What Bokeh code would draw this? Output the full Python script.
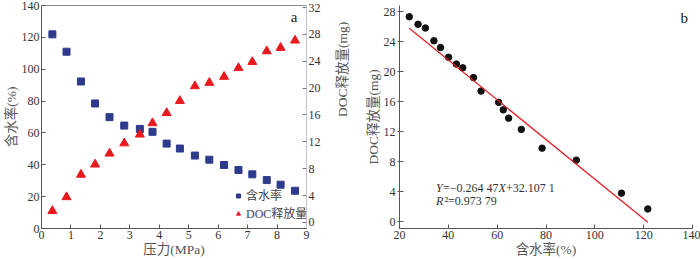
import math
from bokeh.plotting import figure
from bokeh.models import Range1d, LinearAxis, FixedTicker, Legend, LegendItem, Label
from bokeh.layouts import row
from bokeh.embed import file_html
from bokeh.resources import INLINE

# ---------------- data ----------------
pressure = [0.37, 0.85, 1.34, 1.82, 2.31, 2.81, 3.34, 3.77, 4.25, 4.70,
            5.21, 5.70, 6.20, 6.69, 7.16, 7.65, 8.12, 8.61]
moisture = [121.9, 111.0, 92.3, 78.5, 69.9, 64.6, 62.5, 60.7, 53.3, 50.2,
            45.8, 43.2, 39.9, 36.7, 34.0, 30.4, 27.5, 23.7]
doc_release = [1.72, 3.78, 7.12, 8.64, 10.27, 11.79, 13.1, 14.8, 16.3, 18.1,
               20.3, 20.8, 21.7, 23.0, 23.9, 25.5, 26.0, 27.1]

b_moisture = [24.0, 27.6, 30.6, 34.1, 36.8, 40.1, 43.3, 45.9, 50.3, 53.4,
              60.6, 62.5, 64.7, 69.9, 78.4, 92.4, 110.9, 121.7]
b_doc = [27.3, 26.3, 25.8, 24.1, 23.2, 21.9, 21.0, 20.5, 19.2, 17.4,
         15.9, 14.9, 13.8, 12.3, 9.8, 8.2, 3.8, 1.7]
fit_slope = -0.26447
fit_intercept = 32.1071

a_xticks = [0, 1, 2, 3, 4, 5, 6, 7, 8, 9]
a_yticks = [0, 20, 40, 60, 80, 100, 120, 140]
a_y2ticks = [0, 4, 8, 12, 16, 20, 24, 28, 32]
b_xticks = [20, 40, 60, 80, 100, 120, 140]
b_yticks = [0, 4, 8, 12, 16, 20, 24, 28]

FONT = "'Liberation Serif', 'Noto Sans CJK SC'"
NUMFONT = "Liberation Serif"
SQ_COLOR = "#2E3A8C"
RED = "#E8191E"


def style_axis(ax, line_color, ticks_out=0):
    ax.axis_line_color = line_color
    ax.major_tick_line_color = line_color
    ax.major_tick_in = 4
    ax.major_tick_out = ticks_out
    ax.minor_tick_line_color = None
    ax.major_label_text_font = NUMFONT
    ax.major_label_text_font_size = "12px"
    ax.major_label_text_color = "#333333"
    ax.major_label_text_line_height = 1.0
    ax.major_label_standoff = 2
    ax.axis_label_text_font = FONT
    ax.axis_label_text_font_style = "normal"
    ax.axis_label_text_font_size = "13.5px"
    ax.axis_label_text_color = "#555555"
    ax.axis_label_text_line_height = 1.0
    ax.axis_label_standoff = 0


# ---------------- panel a ----------------
p1 = figure(width=360, height=259, x_range=Range1d(0, 9), y_range=Range1d(0, 140),
            output_backend="svg", toolbar_location=None,
            min_border_left=30, min_border_right=43, min_border_top=5, min_border_bottom=26)
p1.extra_y_ranges = {"doc": Range1d(-0.9, 32.3)}
p1.xgrid.visible = False
p1.ygrid.visible = False
p1.outline_line_color = None

p1.xaxis.ticker = FixedTicker(ticks=a_xticks)
p1.yaxis.ticker = FixedTicker(ticks=a_yticks)
p1.xaxis.axis_label = "压力(MPa)"
p1.yaxis.axis_label = "含水率(%)"
style_axis(p1.xaxis[0], "#555555")
style_axis(p1.yaxis[0], "#555555")

right_ax = LinearAxis(y_range_name="doc", ticker=FixedTicker(ticks=a_y2ticks),
                      axis_label="DOC释放量(mg)")
style_axis(right_ax, "#C5C5DE")
right_ax.major_tick_line_color = "#777777"
right_ax.axis_label_orientation = math.pi / 2
right_ax.axis_label_standoff = 19
p1.add_layout(right_ax, "right")

top_ax = LinearAxis(ticker=FixedTicker(ticks=[]))
top_ax.axis_line_color = "#8C8C8C"
top_ax.major_tick_line_color = None
top_ax.minor_tick_line_color = None
top_ax.major_label_text_font_size = "0px"
p1.add_layout(top_ax, "above")

r_sq = p1.scatter(pressure, moisture, marker="square", size=7, color=SQ_COLOR)
r_tri = p1.scatter(pressure, doc_release, marker="triangle", size=9, color=RED,
                   y_range_name="doc")

legend = Legend(items=[LegendItem(label="含水率", renderers=[r_sq]),
                       LegendItem(label="DOC释放量", renderers=[r_tri])],
                location=(192, 6))
legend.border_line_color = None
legend.background_fill_alpha = 0
legend.label_text_font = FONT
legend.label_text_font_size = "12px"
legend.label_text_color = "#444444"
legend.glyph_width = 10
legend.glyph_height = 13
legend.label_height = 13
legend.spacing = 0
legend.padding = 0
legend.margin = 0
legend.label_standoff = 3
p1.add_layout(legend)

p1.add_layout(Label(x=8.58, y=133, text="a", text_font=NUMFONT, text_font_size="15px",
                    text_align="center", text_baseline="middle", text_color="#222222"))

# ---------------- panel b ----------------
p2 = figure(width=340, height=259, x_range=Range1d(20, 140), y_range=Range1d(-0.9, 28.8),
            output_backend="svg", toolbar_location=None,
            min_border_left=39, min_border_right=8, min_border_top=5, min_border_bottom=26)
p2.xgrid.visible = False
p2.ygrid.visible = False
p2.outline_line_color = None
p2.xaxis.ticker = FixedTicker(ticks=b_xticks)
p2.yaxis.ticker = FixedTicker(ticks=b_yticks)
p2.xaxis.axis_label = "含水率(%)"
p2.yaxis.axis_label = "DOC释放量(mg)"
style_axis(p2.xaxis[0], "#555555")
style_axis(p2.yaxis[0], "#555555", ticks_out=2)

p2.scatter(b_moisture, b_doc, marker="circle", size=6.5, color="#111111")
lx = [min(b_moisture), max(b_moisture)]
ly = [fit_slope * v + fit_intercept for v in lx]
p2.line(lx, ly, line_color=RED, line_width=1.2)

eq_x, eq_y1, eq_y2 = 34.9, 4.5, 2.7
pieces1 = [("Y", "italic", 0), ("=−0.264 47", "normal", 7.0),
           ("X", "italic", 62.5), ("+32.107 1", "normal", 70.0)]
for txt, style, off in pieces1:
    p2.add_layout(Label(x=eq_x, y=eq_y1, x_offset=off, text=txt, text_font=NUMFONT,
                        text_font_style=style, text_font_size="12px",
                        text_baseline="middle", text_color="#333333"))
pieces2 = [("R", "italic", 0), ("²=0.973 79", "normal", 8.5)]
for txt, style, off in pieces2:
    p2.add_layout(Label(x=eq_x, y=eq_y2, x_offset=off, text=txt, text_font=NUMFONT,
                        text_font_style=style, text_font_size="12px",
                        text_baseline="middle", text_color="#333333"))

p2.add_layout(Label(x=136.6, y=27.2, text="b", text_font=NUMFONT, text_font_size="15px",
                    text_align="center", text_baseline="middle", text_color="#222222"))

layout = row(p1, p2)
open("out.html", "w").write(file_html(layout, INLINE))
